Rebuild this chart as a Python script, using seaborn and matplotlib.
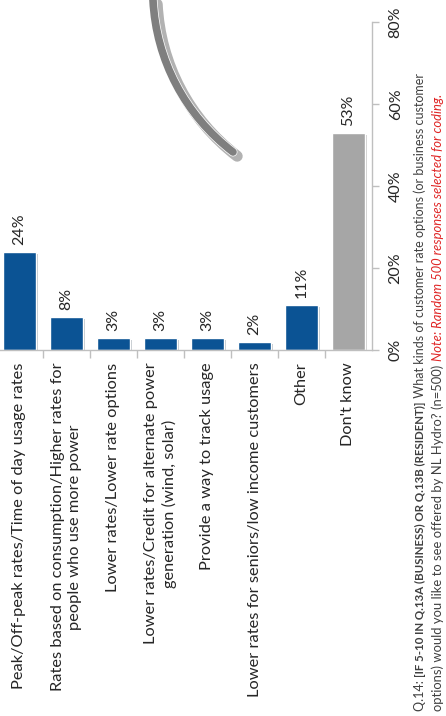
import numpy as np
import matplotlib
matplotlib.use("Agg")
import matplotlib.pyplot as plt
import matplotlib.patheffects as pe
from matplotlib.path import Path
from matplotlib.lines import Line2D
from matplotlib.transforms import IdentityTransform
import seaborn as sns

# -------------data-------------
categories = [
    "Peak/Off-peak rates/Time of day usage rates",
    "Rates based on consumption/Higher rates for\npeople who use more power",
    "Lower rates/Lower rate options",
    "Lower rates/Credit for alternate power\ngeneration (wind, solar)",
    "Provide a way to track usage",
    "Lower rates for seniors/low income customers",
    "Other",
    "Don't know",
]
values = [24, 8, 3, 3, 3, 2, 11, 53]
bar_colors = ["#0b5394"] * 7 + ["#a6a6a6"]
value_ticks = [0, 20, 40, 60, 80]
value_ticklabels = ["0%", "20%", "40%", "60%", "80%"]

note_line1 = ["Q.14: ", "[IF 5-10 IN Q.13A (BUSINESS) OR Q.13B (RESIDENT)]",
              " What kinds of customer rate options (or business customer"]
note_line2 = ["options) would you like to see offered by NL Hydro? (n=500) ",
              "Note: Random 500 responses selected for coding."]

# -------------style-------------
sns.set_style("white")
plt.rcParams["font.family"] = ["Lato", "DejaVu Sans"]
txt_col = "#262626"
axis_col = "#bfbfbf"

W, H = 446, 716
fig = plt.figure(figsize=(W / 100, H / 100), dpi=100)
ax = fig.add_axes([-4 / W, 366 / H, 376 / W, 328 / H])

sns.barplot(x=categories, y=values, hue=categories, palette=bar_colors,
            legend=False, width=0.7, saturation=1, ax=ax)
for bar in ax.patches:
    bar.set_path_effects([pe.SimplePatchShadow(offset=(1.5, -1.5), alpha=0.25), pe.Normal()])

for cont, v in zip(ax.containers, values):
    ax.bar_label(cont, labels=[f"{v}%"], rotation=90, padding=5,
                 fontsize=11.5, color=txt_col)

ax.set_xlim(-0.5, 7.5)
ax.set_ylim(0, 80)
ax.set_xlabel("")
ax.set_ylabel("")

# value axis on the right
ax.yaxis.tick_right()
ax.set_yticks(value_ticks)
ax.set_yticklabels(value_ticklabels, rotation=90, va="center", fontsize=11.5, color=txt_col)
ax.tick_params(axis="y", which="major", direction="out", length=5, width=1,
               color=axis_col, pad=7, right=True, left=False)

# categories below
ax.set_xticks(range(len(categories)))
ax.set_xticklabels(categories, rotation=90, va="top", ha="center",
                   multialignment="center", fontsize=11.8, color=txt_col,
                   linespacing=1.25)
ax.set_xticks(np.arange(0.5, 7.5, 1), minor=True)
ax.tick_params(axis="x", which="major", length=0, pad=9)
ax.tick_params(axis="x", which="minor", direction="out", length=6, width=1,
               color=axis_col, bottom=True)

for side in ["top", "left"]:
    ax.spines[side].set_visible(False)
for side in ["bottom", "right"]:
    ax.spines[side].set_color(axis_col)
    ax.spines[side].set_linewidth(1)

# decorative swoosh at the top
swoosh = Path([(153, H - 0), (156, H - 60), (185, H - 115), (233, H - 152)],
              [Path.MOVETO, Path.CURVE4, Path.CURVE4, Path.CURVE4])
pts = swoosh.to_polygons(closed_only=False)[0]
line = Line2D(pts[:, 0], pts[:, 1], transform=IdentityTransform(), color="#7f7f7f",
              lw=5.5, solid_capstyle="round",
              path_effects=[pe.SimpleLineShadow(offset=(3, -3), alpha=0.3, linewidth=8),
                            pe.Stroke(linewidth=6.5, foreground="white"), pe.Normal()])
fig.add_artist(line)

# footnote, rotated, built from pieces
renderer = fig.canvas.get_renderer()


def rotated_line(pieces, styles, x, y0):
    y = y0
    for s, st in zip(pieces, styles):
        t = fig.text(x, y, s, transform=IdentityTransform(), rotation=90,
                     rotation_mode="anchor", ha="left", va="baseline", **st)
        ext = t.get_window_extent(renderer)
        y = ext.y1


grey = "#404040"
rotated_line(note_line1,
             [dict(color=grey, fontsize=9.0),
              dict(color=grey, fontsize=8.3, fontweight="bold"),
              dict(color=grey, fontsize=9.0)], 424, 5)
rotated_line(note_line2,
             [dict(color=grey, fontsize=9.4),
              dict(color="#e02626", fontsize=9.4, style="italic")], 442, 5)

fig.savefig("out.png", dpi=100)
